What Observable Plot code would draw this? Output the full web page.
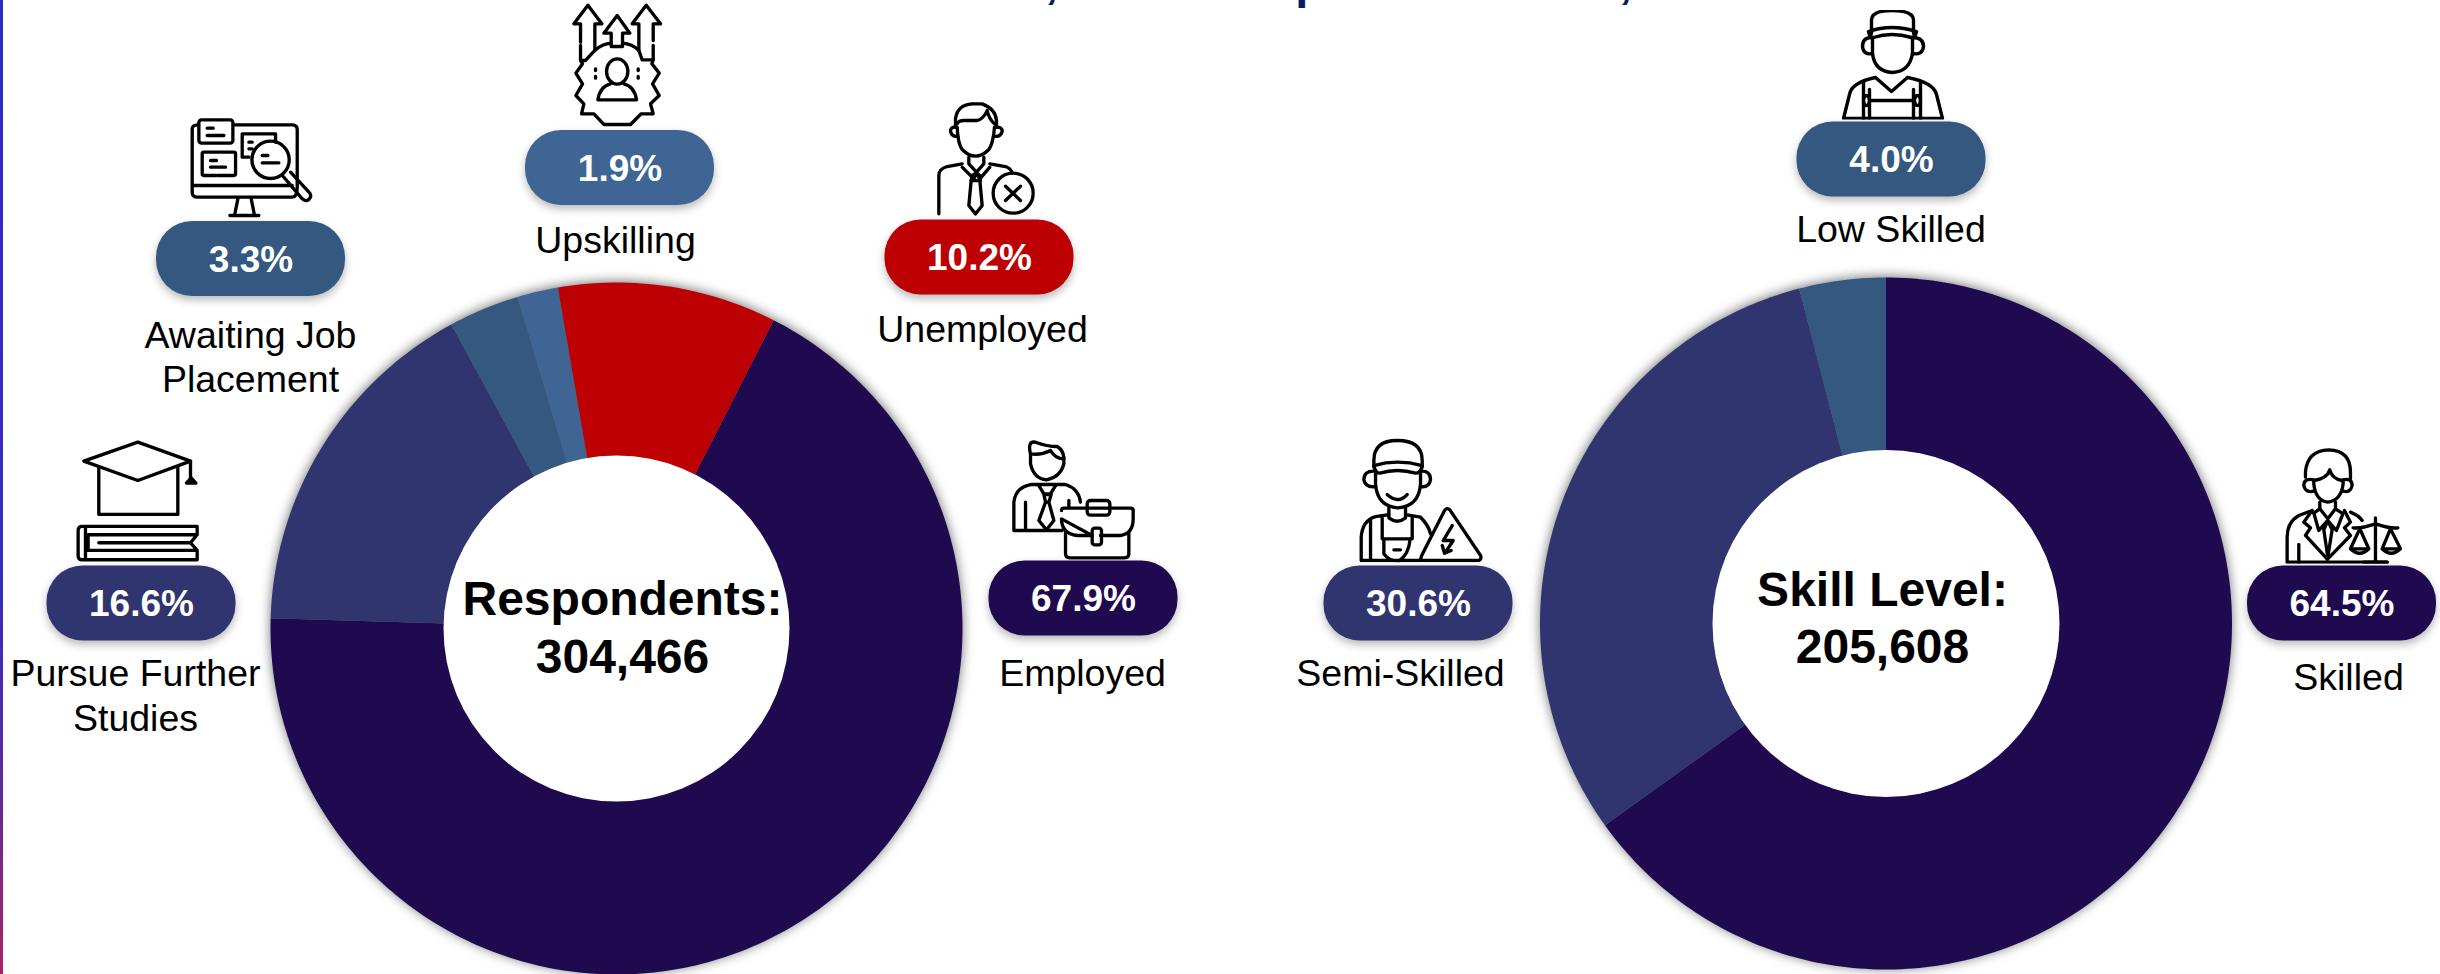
<!DOCTYPE html>
<html><head><meta charset="utf-8">
<script src="https://cdn.jsdelivr.net/npm/d3@7"></script>
<script src="https://cdn.jsdelivr.net/npm/@observablehq/plot@0.6"></script>
<style>
html,body{margin:0;padding:0;background:#fff;overflow:hidden}
#edge{position:absolute;left:0;top:0;width:2.5px;height:974px;background:linear-gradient(#2a2ac8 0%,#3a2cbd 62%,#5c2a9c 80%,#a82468 100%)}
g[aria-label="line"]{filter:drop-shadow(0 -1px 6px rgba(0,0,0,.55))}
g[aria-label="rect"]{filter:drop-shadow(0 4px 4px rgba(0,0,0,.28))}
</style></head><body><div id="edge"></div><div id="chart"></div>
<script>
// ---- values
const respondentCategories = ["Employed","Pursue Further\nStudies","Awaiting Job\nPlacement","Upskilling","Unemployed"];
const respondentValues = [67.9,16.6,3.3,1.9,10.2];
const respondentTotal = "304,466";
const skillCategories = ["Skilled","Semi-Skilled","Low Skilled"];
const skillValues = [64.5,30.6,4.0];
const skillTotal = "205,608";
const categoryColors = ["#1f0a4f","#31356f","#34587f","#3e6593","#bc0004","#1f0a4f","#31356f","#34587f"];

// ---- layout
const W = 2440, H = 974;
const donuts = [
  {cats:respondentCategories, vals:respondentValues, cx:616, cy:628, r:346, hole:173, start:27, head:"Respondents:", total:respondentTotal, tx:622, y1:614, y2:672},
  {cats:skillCategories, vals:skillValues, cx:1885.5, cy:623, r:346, hole:173.5, start:0, head:"Skill Level:", total:skillTotal, tx:1882, y1:605, y2:662}
];
// pill centre, label centre and label baseline(s), icon box, per category
const place = {
  "Employed":{px:1083,py:598,lx:1082,ly:[685],ic:[1006.7,436.7,133.3,123.3]},
  "Pursue Further\nStudies":{px:141,py:603,lx:135,ly:[685,730],ic:[73.3,438.3,126.7,123.3]},
  "Awaiting Job\nPlacement":{px:250.5,py:258.5,lx:250,ly:[347,391],ic:[186.7,115,126.7,103.3]},
  "Upskilling":{px:619.5,py:167.5,lx:615,ly:[252],ic:[566.7,0,100,128.3]},
  "Unemployed":{px:979,py:257,lx:982,ly:[341],ic:[920,95,130,121.7]},
  "Skilled":{px:2341.5,py:603,lx:2348,ly:[689],ic:[2283.3,445,120,118.3]},
  "Semi-Skilled":{px:1418,py:603,lx:1400,ly:[685],ic:[1356.7,436.7,130,125]},
  "Low Skilled":{px:1891,py:159,lx:1890.5,ly:[241],ic:[1841,9,103,110]}
};
const pillW = 189, pillH = 75;

// ---- icons (line drawings)
const svgIcon=(vb,sw,body)=>"data:image/svg+xml,"+encodeURIComponent(`<svg xmlns="http://www.w3.org/2000/svg" viewBox="${vb}" fill="none" stroke="#000" stroke-width="${sw}" stroke-linecap="round" stroke-linejoin="round">${body}</svg>`);
const icons = {
  "Upskilling":svgIcon("1160 0 300 385",10,`<path d="M1200 125V70H1180L1222 14 1264 70H1243V150M1200 135V180"/><path d="M1270 98L1310 45 1348 98H1326V138H1292V98Z"/><path d="M1375 150V70H1355L1397 14 1440 70H1418V120M1418 135V178"/><path d="M1243 150Q1265 130 1292 128M1326 128Q1355 130 1375 150L1385 178H1418L1414 190 1436 218 1416 250 1436 285 1410 310 1418 340H1382L1350 372H1270L1240 340H1203L1210 310 1186 285 1206 250 1186 218 1206 190 1200 180H1215L1243 150"/><ellipse cx="1310" cy="213" rx="32" ry="38"/><path d="M1252 298Q1258 258 1290 250M1368 298Q1362 258 1330 250M1252 298H1368"/><path d="M1245 205V210M1245 228V233M1373 205V210M1373 228V233"/>`),
  "Awaiting Job\nPlacement":svgIcon("20 345 380 310",10,`<path d="M160 373H335Q350 373 350 388V560Q350 590 335 590H50Q35 590 35 575V385Q35 375 50 373M35 555H335"/><path d="M172 595L162 645M212 595L222 645M148 645H235"/><rect x="55" y="358" width="102" height="70" rx="8"/><path d="M80 383H98M80 405H130"/><path d="M205 470H185V400H285V425M205 425H215M205 445H215"/><path d="M105 525H70Q65 525 65 520V460Q65 455 70 455H160Q165 455 165 460V520Q165 525 160 525H110"/><path d="M90 480H108M90 500H135"/><circle cx="270" cy="478" r="56"/><path d="M245 465H262M245 487H295"/><path d="M308 528L365 595Q380 608 390 590 392 582 385 575L330 515"/>`),
  "Unemployed":svgIcon("0 0 390 365",10,`<path d="M110 95Q112 145 125 162 145 182 165 182 185 182 205 162 218 145 222 95"/><path d="M105 95V70Q110 28 155 25H185Q225 40 228 75V95"/><path d="M110 85Q115 75 130 75H170Q190 70 200 45 205 70 222 85"/><path d="M105 95Q90 93 90 108 95 125 112 122M225 95Q245 93 245 108 240 125 222 122"/><path d="M145 185V205L168 230 190 205V185M125 215L160 250 168 232 178 250 208 215"/><path d="M155 240L168 232 178 240 180 255H152Z"/><path d="M152 255L145 330 165 355 185 330 178 255"/><path d="M55 355V240Q55 220 80 213L125 205M208 205L255 213Q270 218 275 232"/><circle cx="278" cy="293" r="60"/><path d="M255 272L300 315M300 272L255 315"/>`),
  "Employed":svgIcon("80 20 400 370",10,`<path d="M150 70V100Q160 145 198 148 240 140 250 100V80"/><path d="M150 70Q140 30 165 35 200 48 230 48 250 60 250 85 225 85 210 60 180 75 150 70Z"/><path d="M100 300V215Q105 170 150 162H255Q295 175 300 215M100 300H245M135 215V300M265 210V230"/><path d="M175 165L190 190H210L225 165M190 192H212L205 215H195ZM195 215L175 270 198 298 220 270 205 215"/><path d="M243 240Q243 233 250 233H450Q458 233 458 240V265Q458 310 420 315H360M335 315H290Q243 310 243 265Z"/><path d="M255 305V370Q255 382 268 382H432Q445 382 445 370V305"/><rect x="320" y="210" width="68" height="44" rx="10"/><rect x="335" y="293" width="28" height="50" rx="8"/>`),
  "Pursue Further\nStudies":svgIcon("100 25 380 370",10,`<path d="M130 92L292 35 450 92 292 150Z"/><path d="M175 112V252H412V112"/><path d="M450 92V145"/><path d="M438 158L452 142 466 158Z" fill="#000"/><path d="M470 288H125Q113 288 113 300V375Q113 388 125 388H470M135 288V388M470 288V313H143V360H470V388M175 337H445M470 313L450 337 470 360"/>`),
  "Low Skilled":svgIcon("0 0 103 110",3.4,`<path d="M30 24V10Q31 1 50 1 71 1 72 10V24"/><path d="M27 22Q50 14 75 22 74 28 70 28 50 22 32 28 28 28 27 22Z"/><path d="M31 28V44Q33 62 51 63 68 62 71 44V28"/><path d="M30 28Q21 28 21 37 22 46 31 44M71 28Q82 28 82 37 81 46 71 44"/><path d="M34 68L50 82 66 68M34 68Q10 73 8 85L2 109H101L95 85Q92 73 66 68"/><path d="M22 72V109M79 72V109M28 80V109M72 80V109M28 91H72"/><ellipse cx="25" cy="91" rx="3" ry="5"/><ellipse cx="76" cy="91" rx="3" ry="5"/>`),
  "Semi-Skilled":svgIcon("50 20 390 375",10,`<path d="M100 110V90Q100 30 170 30 245 30 245 90V110"/><path d="M100 105Q170 85 245 105 240 128 225 128 170 112 118 128 105 128 100 105Z"/><path d="M105 125V160Q110 228 172 232 235 228 240 160V125"/><path d="M103 122Q70 120 70 148 75 172 105 168M240 122Q270 120 270 148 265 172 240 168"/><path d="M140 192Q172 222 200 192"/><path d="M145 232V262Q170 282 195 262V232"/><path d="M145 252L105 258Q65 270 62 320V390H240M90 270V390M125 262V325M215 262V325M125 325H210"/><path d="M130 330V370Q145 392 175 392 205 370 208 330M160 358H180M195 252L240 260Q265 285 270 310"/><path d="M328 238L420 375Q425 390 410 390H250Q235 390 245 372L312 240Q320 230 328 238Z"/><path d="M335 285L308 330H338L315 365M305 345L312 368 332 360"/>`),
  "Skilled":svgIcon("40 15 360 355",10,`<path d="M105 110V95Q110 30 175 28 240 30 240 95V115"/><path d="M130 120Q170 115 178 88 185 115 215 120"/><path d="M130 120V130Q135 180 172 185 212 180 218 130V120"/><path d="M130 118Q100 112 100 135 105 158 130 152M218 118Q245 112 245 135 240 158 218 152"/><path d="M148 185V205L130 218M195 185V205L215 218"/><path d="M125 210L85 225Q50 245 50 290V365H350M125 210L100 245 120 262 105 285 170 355M222 210L240 245 222 262 240 285 172 355"/><path d="M148 205L172 235 195 205M130 218L145 270 172 240 198 270 218 218M172 240L160 268 172 350 185 268ZM85 312V365M240 215Q265 225 275 240"/><path d="M248 262Q270 265 315 250 360 265 382 262M315 232V365M280 365H350"/><path d="M268 265L240 325H295ZM240 325Q268 352 295 325M360 265L335 325H390ZM335 325Q362 352 390 325"/>`)
};

// ---- derived tables drawn by Plot
const slices = donuts.flatMap(d => {
  const total = d3.sum(d.vals); let a0 = d.start;
  return d.cats.flatMap((c,i) => {
    const a1 = a0 + d.vals[i] / total * 360;
    const steps = Math.ceil(a1 - a0);
    const pts = [{key:c, x:d.cx, y:d.cy}];
    for (let k = 0; k <= steps; k++) {
      const t = (a0 + (a1 - a0) * k / steps) * Math.PI / 180;
      pts.push({key:c, x:d.cx + d.r * Math.sin(t), y:d.cy - d.r * Math.cos(t)});
    }
    a0 = a1;
    return pts;
  });
});
const pills = donuts.flatMap(d => d.cats.map((c,i) => ({key:c, value:d.vals[i], ...place[c]})));
const labels = pills.flatMap(p => p.key.split("\n").map((t,i) => ({t, x:p.lx, y:p.ly[i]})));
const centers = donuts.flatMap(d => [{t:d.head,x:d.tx,y:d.y1},{t:d.total,x:d.tx,y:d.y2}]);
const clippedTitle = [{t:",",x:1051,y:-3},{t:"p",x:1309,y:-3},{t:",",x:1625,y:-3}];

const colorDomain = [...respondentCategories, ...skillCategories];
const textBase = {fontFamily:"Liberation Sans, Arial, sans-serif", lineAnchor:"bottom", textAnchor:"middle"};

document.getElementById("chart").append(Plot.plot({
  width:W, height:H, margin:0,
  style:{background:"transparent"},
  x:{domain:[0,W], range:[0,W], axis:null},
  y:{domain:[0,H], range:[0,H], axis:null},
  r:{type:"identity"},
  color:{domain:colorDomain, range:categoryColors},
  marks:[
    Plot.text(clippedTitle,{...textBase,x:"x",y:"y",text:"t",fontSize:47,fontWeight:700,fill:"#0c1c62"}),
    Plot.line(slices,{x:"x",y:"y",z:"key",fill:"key",stroke:"none"}),
    Plot.dot(donuts,{x:"cx",y:"cy",r:"hole",fill:"white",stroke:"none"}),
    Plot.rect(pills,{x1:d=>d.px-pillW/2,x2:d=>d.px+pillW/2,y1:d=>d.py-pillH/2,y2:d=>d.py+pillH/2,fill:"key",rx:36}),
    Plot.image(pills,{x:d=>d.ic[0]+d.ic[2]/2,y:d=>d.ic[1]+d.ic[3]/2,width:d=>d.ic[2],height:d=>d.ic[3],src:d=>icons[d.key],preserveAspectRatio:"none"}),
    Plot.text(pills,{...textBase,lineAnchor:"middle",x:"px",y:d=>d.py+1,text:d=>d.value.toFixed(1)+"%",fontSize:37,fontWeight:700,fill:"white"}),
    Plot.text(labels,{...textBase,x:"x",y:"y",text:"t",fontSize:37.5,fill:"black"}),
    Plot.text(centers,{...textBase,x:"x",y:"y",text:"t",fontSize:48,fontWeight:700,fill:"black"})
  ]
}));
</script></body></html>
